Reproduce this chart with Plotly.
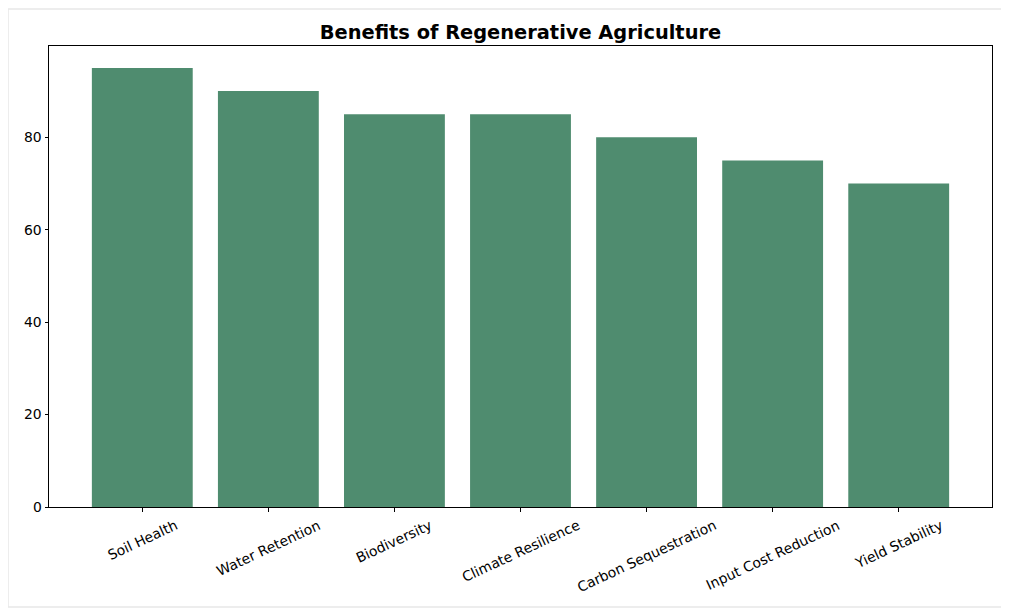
import plotly.graph_objects as go

# benefit categories and scores
benefits = ['Soil Health', 'Water Retention', 'Biodiversity', 'Climate Resilience',
            'Carbon Sequestration', 'Input Cost Reduction', 'Yield Stability']
scores = [95, 90, 85, 85, 80, 75, 70]

bar_color = '#4f8c6f'

fig = go.Figure(go.Bar(x=benefits, y=scores, width=0.8,
                       marker=dict(color=bar_color, line=dict(width=0))))

# rotated, centred category labels (matplotlib style)
for b in benefits:
    fig.add_annotation(x=b, xref='x', y=0, yref='paper', yanchor='top', xanchor='center',
                       yshift=-7, text=b, textangle=-25, showarrow=False,
                       font=dict(family='DejaVu Sans', size=13.9, color='black'))

# faint frame around the figure
fig.add_shape(type='rect', xref='paper', yref='paper', layer='below',
              x0=-41 / 943, x1=1 + 15 / 943, y0=-100 / 461, y1=1 + 37 / 461,
              fillcolor='white', line=dict(color='#e8e8e8', width=1.5))

fig.update_layout(
    width=1000, height=600,
    margin=dict(l=41, r=16, t=38, b=101),
    paper_bgcolor='white', plot_bgcolor='white',
    font=dict(family='DejaVu Sans', size=13.9, color='black'),
    title=dict(text='<b>Benefits of Regenerative Agriculture</b>', x=(512.5 - 41 + 41) / 1000,
               xanchor='center', y=1 - 24 / 600, yanchor='middle',
               font=dict(size=19.4, color='black')),
    showlegend=False,
)
fig.update_xaxes(range=[-0.74, 6.74], showticklabels=False, ticks='outside', ticklen=3.5,
                 tickcolor='black', showline=True, linecolor='black', linewidth=1,
                 mirror=True, showgrid=False)
fig.update_yaxes(range=[0, 99.75], tickvals=[0, 20, 40, 60, 80], ticks='outside', ticklen=3.5,
                 tickcolor='black', showline=True, linecolor='black', linewidth=1,
                 mirror=True, showgrid=False, zeroline=False)

fig.write_html('out.html')
